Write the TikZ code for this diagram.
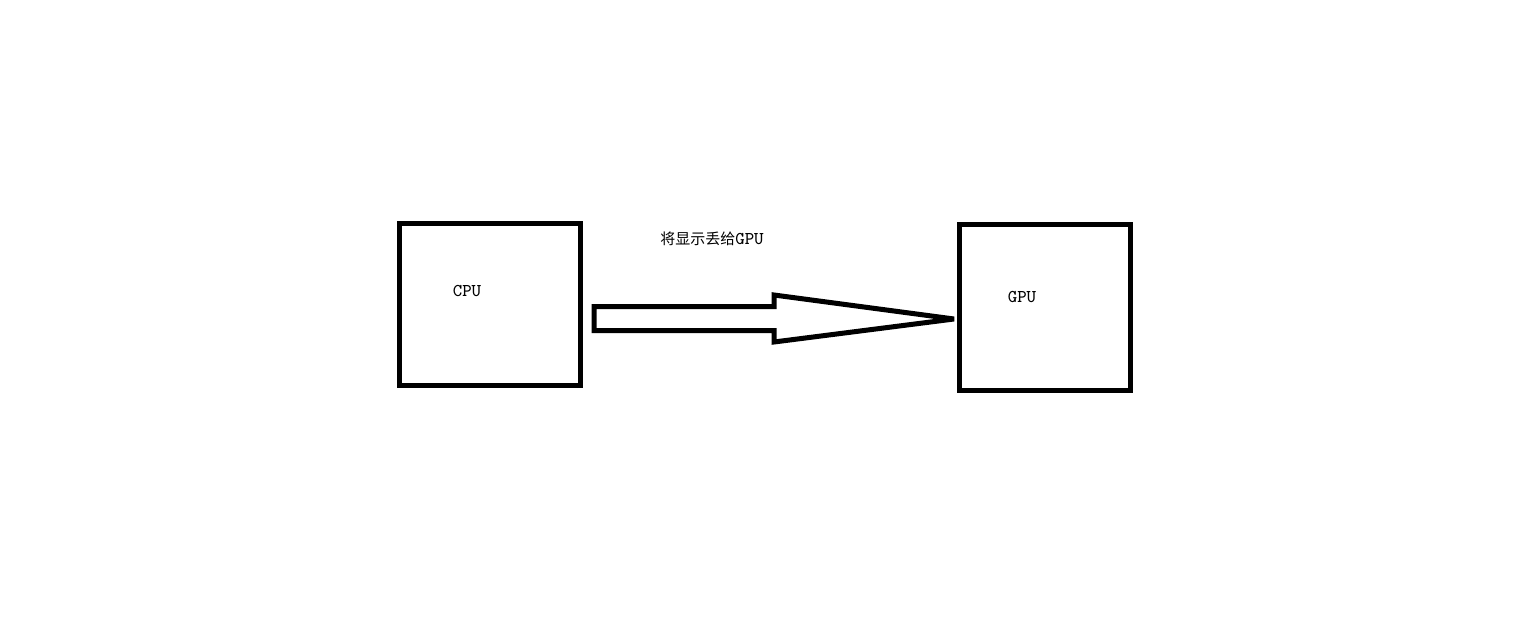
\documentclass[tikz,border=0pt]{standalone}
\usepackage{fontspec}
\newfontfamily\cjk{Noto Sans CJK SC}
\begin{document}
\begin{tikzpicture}[x=0.5pt,y=-0.5pt,
  box/.style={draw=black,line width=2.5pt,rectangle,inner sep=0pt,outer sep=0pt},
  lbl/.style={inner sep=0pt,font=\fontsize{9pt}{10pt}\ttfamily},
  blockarrow/.style={draw=black,line width=2.5pt,line join=miter,miter limit=2,fill=white}]
\useasboundingbox (0,0) rectangle (1521,637);
\node[box,minimum width=90.5pt,minimum height=81pt] (cpu) at (490,304.5) {};
\node[box,minimum width=85.5pt,minimum height=83pt] (gpu) at (1045,307.5) {};
\node[lbl] (cputxt) at (467,291) {CPU};
\node[lbl] (gputxt) at (1022,297) {GPU};
\node[inner sep=0pt] (title) at (712,239) {{\cjk\fontsize{7.5pt}{9pt}\selectfont 将显示丢给}{\fontsize{9pt}{10pt}\ttfamily GPU}};
\coordinate (a0) at (594,306.5);
\coordinate (a1) at (774,306.5);
\coordinate (a2) at (774,295);
\coordinate (tip) at (954,319);
\coordinate (a4) at (774,342);
\coordinate (a5) at (774,330.5);
\coordinate (a6) at (594,330.5);
\draw[blockarrow] (a0) -- (a1) -- (a2) -- (tip) -- (a4) -- (a5) -- (a6) -- cycle;
\end{tikzpicture}
\end{document}
